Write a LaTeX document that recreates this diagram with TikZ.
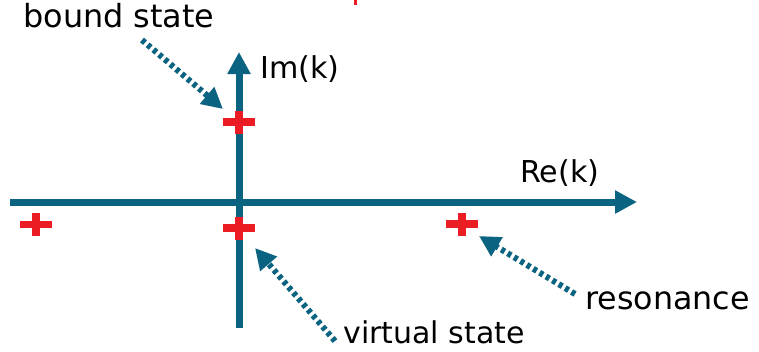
\documentclass[tikz,border=0pt]{standalone}
\usepackage{fontspec}
\newfontfamily\lblfont{DejaVu Sans}
\usetikzlibrary{arrows.meta}
\definecolor{axisteal}{RGB}{10,99,128}
\definecolor{plusred}{RGB}{236,28,36}
\tikzset{
  axisline/.style={draw=axisteal, line width=5.25pt, -{Triangle[length=16.5pt,width=16.5pt]}},
  pointer/.style={draw=axisteal, line width=4.5pt, dash pattern=on 3pt off 2.6pt, -{Triangle[length=15.75pt,width=15.75pt]}},
  polemark/.style={rectangle, inner sep=0pt, minimum width=24pt, minimum height=17.25pt,
    path picture={
      \fill[plusred] ([yshift=-2.8pt]path picture bounding box.west) rectangle ([yshift=2.8pt]path picture bounding box.east);
      \fill[plusred] ([xshift=-3.1pt]path picture bounding box.south) rectangle ([xshift=3.1pt]path picture bounding box.north);
    }},
  lbl/.style={anchor=base west, inner sep=0pt, text=black},
}
\begin{document}
\begin{tikzpicture}[x=0.75pt, y=-0.75pt]
\useasboundingbox (0,0) rectangle (759,351);
% axes
\coordinate (reL) at (10,202);
\coordinate (reR) at (637,202);
\coordinate (imB) at (239,328);
\coordinate (imT) at (239,52);
\draw[axisline] (reL) -- (reR);
\draw[axisline] (imB) -- (imT);
% poles
\node[polemark] (bound) at (239,122) {};
\node[polemark] (virtual) at (239,228) {};
\node[polemark] (left) at (36,224.5) {};
\node[polemark] (reson) at (462,224) {};
\fill[plusred] (353.5,0) rectangle (357,4.5);
% labels
\node[lbl, font=\lblfont\fontsize{23.9pt}{28pt}\selectfont] (tbound) at (23,27) {bound state};
\node[lbl, font=\lblfont\fontsize{22.6pt}{27pt}\selectfont] (tim) at (260,78) {Im(k)};
\node[lbl, font=\lblfont\fontsize{22.6pt}{27pt}\selectfont] (tre) at (520,182) {Re(k)};
\node[lbl, font=\lblfont\fontsize{23.8pt}{28pt}\selectfont] (tres) at (585,309) {resonance};
\node[lbl, font=\lblfont\fontsize{22.5pt}{27pt}\selectfont] (tvir) at (343,343) {virtual state};
% pointers
\coordinate (bsA) at (142,40);
\coordinate (bsB) at (223,109);
\coordinate (vsA) at (335,341);
\coordinate (vsB) at (255,248);
\coordinate (rsA) at (575,294);
\coordinate (rsB) at (479,236);
\draw[pointer] (bsA) -- (bsB);
\draw[pointer] (vsA) -- (vsB);
\draw[pointer] (rsA) -- (rsB);
\end{tikzpicture}
\end{document}
